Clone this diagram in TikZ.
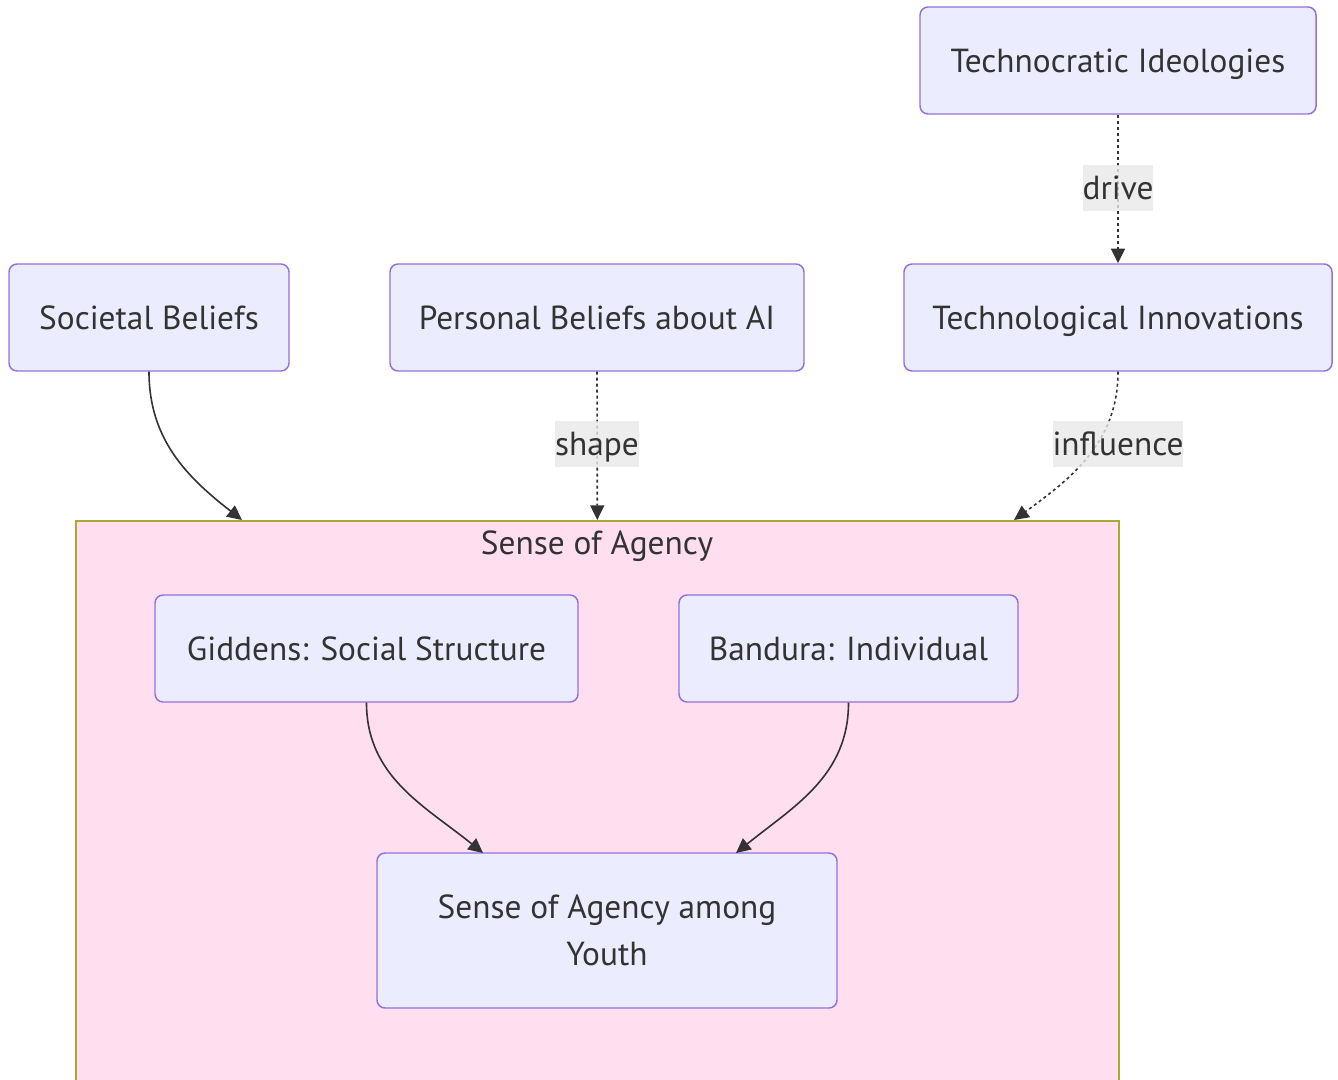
\documentclass[tikz,border=0pt]{standalone}
\usepackage{fontspec}
\setmainfont{PT Sans}
\usepackage{xcolor}
\usetikzlibrary{arrows.meta}
\definecolor{boxfill}{HTML}{ECECFF}
\definecolor{boxline}{HTML}{9370DB}
\definecolor{groupfill}{HTML}{FFDEF0}
\definecolor{groupline}{HTML}{AAAA33}
\definecolor{ink}{HTML}{333333}
\definecolor{lblfill}{HTML}{E8E8E8}

\begin{document}
\begin{tikzpicture}[x=0.75pt,y=-0.75pt,font=\fontsize{25}{35}\selectfont,text=ink,
    box/.style={draw=boxline,fill=boxfill,line width=1.1pt,rounded corners=6pt,minimum height=80.25pt,align=center},
    single/.style={box,text height=20pt,text depth=2.5pt},
    group/.style={draw=groupline,fill=groupfill,line width=1.2pt,anchor=north west},
    lbl/.style={fill=lblfill,fill opacity=0.8,text opacity=1,inner xsep=0pt,inner ysep=0pt,minimum height=35pt,text height=20pt,text depth=2.5pt},
    link/.style={draw=ink,line width=1.2pt,-{Triangle[length=11pt,width=10.5pt]}},
    dots/.style={link,dash pattern=on 2.25pt off 2.25pt}]
    \useasboundingbox (0,0) rectangle (1338,1080);
    \clip (0,0) rectangle (1338,1080);
    \node[group,minimum width=782.25pt,minimum height=435pt] (agency) at (75,520) {};
    \node[text height=20pt,text depth=2.5pt] (agencytitle) at (597,543) {Sense of Agency};
    \node[single,minimum width=297pt] (techid) at (1118,60.5) {Technocratic Ideologies};
    \node[single,minimum width=321pt] (techinn) at (1118,317.5) {Technological Innovations};
    \node[single,minimum width=210pt] (soc) at (149,317.5) {Societal Beliefs};
    \node[single,minimum width=310.5pt] (pers) at (597,317.5) {Personal Beliefs about AI};
    \node[single,minimum width=317.25pt] (gid) at (366.5,648.5) {Giddens: Social Structure};
    \node[single,minimum width=254.25pt] (band) at (848.5,648.5) {Bandura: Individual};
    \node[box,minimum width=345pt,minimum height=116.25pt] (youth) at (607,930.5) {Sense of Agency among\\Youth};
    \coordinate (socend) at (242,520);
    \coordinate (infend) at (1014,520);
    \coordinate (youthL) at (483,853);
    \coordinate (youthR) at (736,853);
    \draw[link] (soc.south) to[out=-90,in=142] (socend);
    \draw[dots] (pers.south) -- (agency.north);
    \draw[dots] (techid.south) -- (techinn.north);
    \draw[dots] (techinn.south) to[out=-90,in=36] (infend);
    \draw[link] (gid.south) to[out=-90,in=141] (youthL);
    \draw[link] (band.south) to[out=-90,in=39] (youthR);
    \node[lbl] (ldrive) at (1118,188) {drive};
    \node[lbl] (lshape) at (597,444) {shape};
    \node[lbl] (linfl) at (1118,444) {influence};
\end{tikzpicture}
\end{document}
